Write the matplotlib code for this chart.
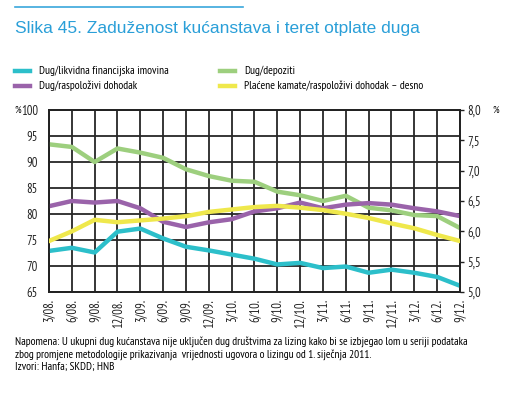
import matplotlib.pyplot as plt
from matplotlib.lines import Line2D

# Quarterly labels
labels = ['3/08.', '6/08.', '9/08.', '12/08.', '3/09.', '6/09.', '9/09.', '12/09.',
          '3/10.', '6/10.', '9/10.', '12/10.', '3/11.', '6/11.', '9/11.', '12/11.',
          '3/12.', '6/12.', '9/12.']

# Left axis series (%)
dug_likvidna = [72.9, 73.5, 72.6, 76.6, 77.2, 75.3, 73.7, 73.0, 72.2, 71.4,
                70.3, 70.6, 69.6, 69.9, 68.7, 69.3, 68.7, 67.9, 66.2]
dug_raspolozivi = [81.5, 82.5, 82.2, 82.5, 81.1, 78.5, 77.5, 78.4, 79.0, 80.5,
                   81.1, 82.2, 81.1, 81.8, 82.1, 81.8, 81.1, 80.5, 79.6]
dug_depoziti = [93.4, 92.9, 90.0, 92.6, 91.8, 90.8, 88.6, 87.3, 86.4, 86.2,
                84.3, 83.6, 82.5, 83.5, 81.2, 80.7, 79.8, 79.6, 77.3]
# Right axis series (%)
kamate = [5.84, 6.00, 6.19, 6.15, 6.18, 6.21, 6.25, 6.32, 6.36, 6.40,
          6.42, 6.39, 6.35, 6.29, 6.22, 6.13, 6.05, 5.94, 5.84]

c_cyan = '#2cbfca'
c_purple = '#9a63aa'
c_green = '#9dcf7e'
c_yellow = '#efe84c'

plt.rcParams['font.family'] = ['PT Sans Narrow', 'DejaVu Sans']

fig = plt.figure(figsize=(5.06, 3.95), dpi=100)

# decorative line and title
fig.add_artist(Line2D([15 / 506, 243 / 506], [1 - 7 / 395, 1 - 7 / 395],
                      color='#3aa7dc', lw=1.2))
fig.text(15 / 506, 1 - 29 / 395, 'Slika 45. Zaduženost kućanstava i teret otplate duga',
         fontsize=12.5, color='#2a9fd8', va='center', family=['Liberation Sans', 'DejaVu Sans'])

ax = fig.add_axes([49 / 506, 1 - 292 / 395, 411 / 506, 182 / 395])
x = list(range(len(labels)))

ax.plot(x, dug_depoziti, color=c_green, lw=3.2, zorder=3)
ax.plot(x, dug_raspolozivi, color=c_purple, lw=3.2, zorder=3)
ax.plot(x, dug_likvidna, color=c_cyan, lw=3.2, zorder=3)

ax2 = ax.twinx()
ax2.plot(x, kamate, color=c_yellow, lw=3.2, zorder=3)

ax.set_xlim(0, len(labels) - 1)
ax.set_ylim(65, 100)
ax.set_yticks(range(65, 101, 5))
ax2.set_ylim(5.0, 8.0)
ax2.set_yticks([5.0, 5.5, 6.0, 6.5, 7.0, 7.5, 8.0])
ax2.set_yticklabels(['5,0', '5,5', '6,0', '6,5', '7,0', '7,5', '8,0'])

ax.set_xticks(x)
ax.set_xticklabels(labels, rotation=90, fontsize=9)
ax.grid(True, color='#262626', lw=1.3, zorder=0)
ax.set_axisbelow(True)

for a in (ax, ax2):
    for s in a.spines.values():
        s.set_color('#222222')
        s.set_linewidth(1.3)
    a.tick_params(labelsize=9, length=3, width=1, colors='#222222', pad=2)
ax.tick_params(axis='x', length=0, pad=5)
ax.tick_params(axis='y', length=0, pad=8)

fig.text(14 / 506, 1 - 110 / 395, '%', fontsize=7.5, va='center')
fig.text(492 / 506, 1 - 110 / 395, '%', fontsize=7.5, va='center')

# legend
leg = [(c_cyan, 'Dug/likvidna financijska imovina', 15, 71),
       (c_purple, 'Dug/raspoloživi dohodak', 15, 86),
       (c_green, 'Dug/depoziti', 220, 71),
       (c_yellow, 'Plaćene kamate/raspoloživi dohodak – desno', 220, 86)]
for col, txt, lx, ly in leg:
    fig.add_artist(Line2D([lx / 506, (lx + 15) / 506], [1 - ly / 395, 1 - ly / 395],
                          color=col, lw=3.2))
    fig.text((lx + 24) / 506, 1 - ly / 395, txt, fontsize=8.3, va='center')

note = ('Napomena: U ukupni dug kućanstava nije uključen dug društvima za lizing kako bi se izbjegao lom u seriji podataka\n'
        'zbog promjene metodologije prikazivanja  vrijednosti ugovora o lizingu od 1. siječnja 2011.\n'
        'Izvori: Hanfa; SKDD; HNB')
fig.text(15 / 506, 1 - 336 / 395, note, fontsize=8.2, va='top', linespacing=1.25)

fig.savefig('out.png', dpi=100)
